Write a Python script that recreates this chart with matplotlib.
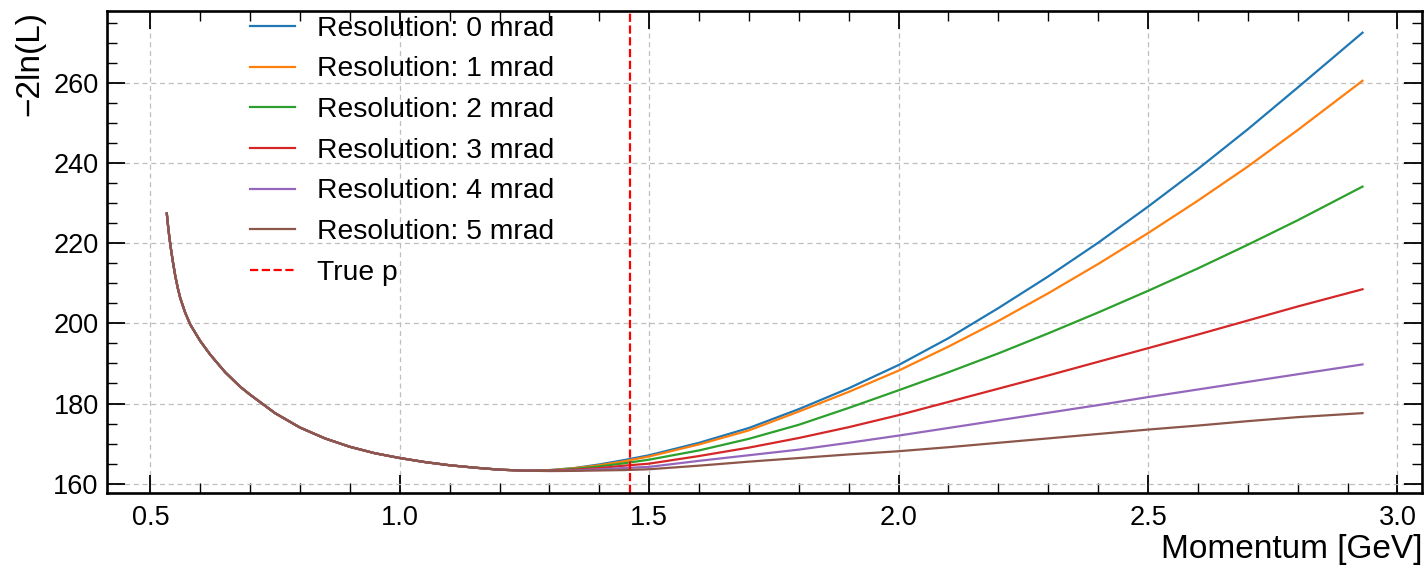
import matplotlib
matplotlib.use("Agg")
import numpy as np
import matplotlib.pyplot as plt
from matplotlib.ticker import MultipleLocator

plt.rcParams['font.family'] = ['Liberation Sans', 'DejaVu Sans']

# ── Data ──────────────────────────────────────────────────────────────────────
# low-momentum branch: all resolutions overlap here
p_low = [0.533, 0.535, 0.538, 0.541, 0.545, 0.550, 0.555, 0.560, 0.570, 0.580,
         0.600, 0.620, 0.650, 0.680, 0.700, 0.750, 0.800, 0.850, 0.900, 0.950,
         1.000, 1.050, 1.100, 1.150, 1.200, 1.250]
nll_low = [227.4, 224.9, 221.6, 218.8, 215.5, 211.8, 208.8, 206.3, 202.6, 199.7,
           195.6, 192.2, 187.8, 184.2, 182.2, 177.6, 174.0, 171.3, 169.2, 167.6,
           166.4, 165.4, 164.6, 164.0, 163.5, 163.25]

# high-momentum branch: curves separate by resolution
p_high = [1.30, 1.35, 1.40, 1.45, 1.50, 1.60, 1.70, 1.80, 1.90, 2.00,
          2.10, 2.20, 2.30, 2.40, 2.50, 2.60, 2.70, 2.80, 2.93]
nll_0mrad = [163.4, 163.9, 164.8, 165.9, 167.1, 170.2, 173.9, 178.6, 183.8, 189.6,
             196.3, 203.8, 211.7, 220.1, 229.1, 238.5, 248.4, 258.8, 272.5]
nll_1mrad = [163.35, 163.85, 164.6, 165.6, 166.8, 169.8, 173.3, 178.0, 182.9, 188.2,
             194.2, 200.6, 207.5, 214.8, 222.5, 230.6, 239.1, 248.2, 260.5]
nll_2mrad = [163.3, 163.7, 164.3, 165.1, 166.0, 168.3, 171.2, 174.7, 178.9, 183.3,
             187.8, 192.5, 197.5, 202.7, 208.1, 213.7, 219.6, 225.7, 234.1]
nll_3mrad = [163.25, 163.5, 163.9, 164.5, 165.0, 166.9, 169.0, 171.4, 174.1, 177.1,
             180.4, 183.7, 187.0, 190.4, 193.8, 197.2, 200.7, 204.2, 208.5]
nll_4mrad = [163.2, 163.3, 163.6, 163.9, 164.2, 165.7, 167.1, 168.5, 170.2, 172.0,
             173.9, 175.8, 177.7, 179.6, 181.6, 183.5, 185.4, 187.3, 189.75]
nll_5mrad = [163.15, 163.2, 163.3, 163.4, 163.6, 164.5, 165.5, 166.4, 167.3, 168.1,
             169.1, 170.2, 171.3, 172.4, 173.5, 174.5, 175.6, 176.6, 177.6]

resolutions = [0, 1, 2, 3, 4, 5]
series = [nll_0mrad, nll_1mrad, nll_2mrad, nll_3mrad, nll_4mrad, nll_5mrad]
true_p = 1.462

# ── Plot ──────────────────────────────────────────────────────────────────────
fig = plt.figure(figsize=(14.25, 5.66), dpi=100)
ax = fig.add_axes([0.0751, 0.129, 0.923, 0.852])

for res, nll in zip(resolutions, series):
    ax.plot(p_low + p_high, nll_low + nll, lw=1.6, label=f"Resolution: {res} mrad")
ax.axvline(true_p, color="red", ls="--", lw=1.6, label="True p")

ax.xaxis.set_major_locator(MultipleLocator(0.5))
ax.xaxis.set_minor_locator(MultipleLocator(0.1))
ax.yaxis.set_major_locator(MultipleLocator(20))
ax.yaxis.set_minor_locator(MultipleLocator(5))
ax.tick_params(which="both", direction="in", top=True, right=True, labelsize=19.5)
ax.tick_params(which="major", length=13, width=1.3)
ax.tick_params(which="minor", length=7, width=1.0)
ax.tick_params(axis="x", pad=9)
ax.tick_params(axis="y", pad=6)
for s in ax.spines.values():
    s.set_linewidth(1.9)

ax.grid(True, which="major", color="#bfbfbf", ls=(0, (4, 3)), lw=0.9)

ax.set_xlabel("Momentum [GeV]", fontsize=24, loc="right", labelpad=2)
ax.set_ylabel("\u22122ln(L)", fontsize=24, loc="top", labelpad=6)

ax.legend(loc="upper left", bbox_to_anchor=(0.1, 1.013), borderaxespad=0,
          frameon=False, fontsize=20.3, handlelength=1.6, handletextpad=0.8,
          labelspacing=0.52)

fig.savefig("out.png", dpi=100)
